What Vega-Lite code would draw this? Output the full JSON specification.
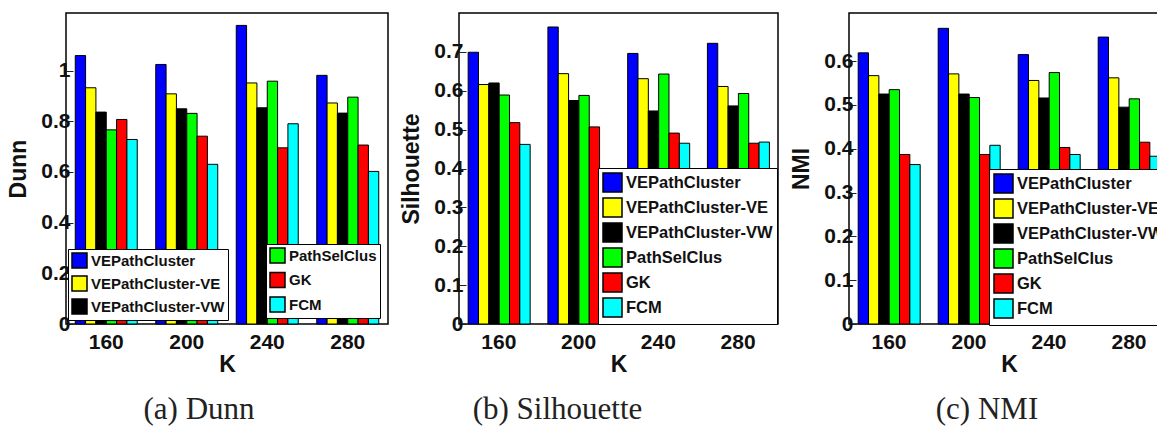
{
  "$schema": "https://vega.github.io/schema/vega-lite/v6.json",
  "background": "white",
  "padding": {"left": 7, "top": 12, "right": 0, "bottom": 0},
  "spacing": 11,
  "resolve": {"scale": {"color": "independent"}, "legend": {"color": "independent"}},
  "datasets": {
    "scores": [
      {"metric": "Dunn", "K": "160", "method": "VEPathCluster", "value": 1.059},
      {"metric": "Dunn", "K": "160", "method": "VEPathCluster-VE", "value": 0.932},
      {"metric": "Dunn", "K": "160", "method": "VEPathCluster-VW", "value": 0.836},
      {"metric": "Dunn", "K": "160", "method": "PathSelClus", "value": 0.766},
      {"metric": "Dunn", "K": "160", "method": "GK", "value": 0.807},
      {"metric": "Dunn", "K": "160", "method": "FCM", "value": 0.728},
      {"metric": "Dunn", "K": "200", "method": "VEPathCluster", "value": 1.024},
      {"metric": "Dunn", "K": "200", "method": "VEPathCluster-VE", "value": 0.908},
      {"metric": "Dunn", "K": "200", "method": "VEPathCluster-VW", "value": 0.849},
      {"metric": "Dunn", "K": "200", "method": "PathSelClus", "value": 0.831},
      {"metric": "Dunn", "K": "200", "method": "GK", "value": 0.741},
      {"metric": "Dunn", "K": "200", "method": "FCM", "value": 0.630},
      {"metric": "Dunn", "K": "240", "method": "VEPathCluster", "value": 1.178},
      {"metric": "Dunn", "K": "240", "method": "VEPathCluster-VE", "value": 0.951},
      {"metric": "Dunn", "K": "240", "method": "VEPathCluster-VW", "value": 0.853},
      {"metric": "Dunn", "K": "240", "method": "PathSelClus", "value": 0.958},
      {"metric": "Dunn", "K": "240", "method": "GK", "value": 0.695},
      {"metric": "Dunn", "K": "240", "method": "FCM", "value": 0.790},
      {"metric": "Dunn", "K": "280", "method": "VEPathCluster", "value": 0.981},
      {"metric": "Dunn", "K": "280", "method": "VEPathCluster-VE", "value": 0.872},
      {"metric": "Dunn", "K": "280", "method": "VEPathCluster-VW", "value": 0.832},
      {"metric": "Dunn", "K": "280", "method": "PathSelClus", "value": 0.895},
      {"metric": "Dunn", "K": "280", "method": "GK", "value": 0.706},
      {"metric": "Dunn", "K": "280", "method": "FCM", "value": 0.602},
      {"metric": "Silhouette", "K": "160", "method": "VEPathCluster", "value": 0.699},
      {"metric": "Silhouette", "K": "160", "method": "VEPathCluster-VE", "value": 0.616},
      {"metric": "Silhouette", "K": "160", "method": "VEPathCluster-VW", "value": 0.620},
      {"metric": "Silhouette", "K": "160", "method": "PathSelClus", "value": 0.589},
      {"metric": "Silhouette", "K": "160", "method": "GK", "value": 0.518},
      {"metric": "Silhouette", "K": "160", "method": "FCM", "value": 0.462},
      {"metric": "Silhouette", "K": "200", "method": "VEPathCluster", "value": 0.764},
      {"metric": "Silhouette", "K": "200", "method": "VEPathCluster-VE", "value": 0.644},
      {"metric": "Silhouette", "K": "200", "method": "VEPathCluster-VW", "value": 0.575},
      {"metric": "Silhouette", "K": "200", "method": "PathSelClus", "value": 0.588},
      {"metric": "Silhouette", "K": "200", "method": "GK", "value": 0.507},
      {"metric": "Silhouette", "K": "200", "method": "FCM", "value": 0.390},
      {"metric": "Silhouette", "K": "240", "method": "VEPathCluster", "value": 0.696},
      {"metric": "Silhouette", "K": "240", "method": "VEPathCluster-VE", "value": 0.631},
      {"metric": "Silhouette", "K": "240", "method": "VEPathCluster-VW", "value": 0.548},
      {"metric": "Silhouette", "K": "240", "method": "PathSelClus", "value": 0.643},
      {"metric": "Silhouette", "K": "240", "method": "GK", "value": 0.491},
      {"metric": "Silhouette", "K": "240", "method": "FCM", "value": 0.465},
      {"metric": "Silhouette", "K": "280", "method": "VEPathCluster", "value": 0.722},
      {"metric": "Silhouette", "K": "280", "method": "VEPathCluster-VE", "value": 0.611},
      {"metric": "Silhouette", "K": "280", "method": "VEPathCluster-VW", "value": 0.561},
      {"metric": "Silhouette", "K": "280", "method": "PathSelClus", "value": 0.593},
      {"metric": "Silhouette", "K": "280", "method": "GK", "value": 0.465},
      {"metric": "Silhouette", "K": "280", "method": "FCM", "value": 0.468},
      {"metric": "NMI", "K": "160", "method": "VEPathCluster", "value": 0.619},
      {"metric": "NMI", "K": "160", "method": "VEPathCluster-VE", "value": 0.567},
      {"metric": "NMI", "K": "160", "method": "VEPathCluster-VW", "value": 0.525},
      {"metric": "NMI", "K": "160", "method": "PathSelClus", "value": 0.535},
      {"metric": "NMI", "K": "160", "method": "GK", "value": 0.387},
      {"metric": "NMI", "K": "160", "method": "FCM", "value": 0.364},
      {"metric": "NMI", "K": "200", "method": "VEPathCluster", "value": 0.675},
      {"metric": "NMI", "K": "200", "method": "VEPathCluster-VE", "value": 0.571},
      {"metric": "NMI", "K": "200", "method": "VEPathCluster-VW", "value": 0.525},
      {"metric": "NMI", "K": "200", "method": "PathSelClus", "value": 0.517},
      {"metric": "NMI", "K": "200", "method": "GK", "value": 0.387},
      {"metric": "NMI", "K": "200", "method": "FCM", "value": 0.408},
      {"metric": "NMI", "K": "240", "method": "VEPathCluster", "value": 0.615},
      {"metric": "NMI", "K": "240", "method": "VEPathCluster-VE", "value": 0.556},
      {"metric": "NMI", "K": "240", "method": "VEPathCluster-VW", "value": 0.516},
      {"metric": "NMI", "K": "240", "method": "PathSelClus", "value": 0.574},
      {"metric": "NMI", "K": "240", "method": "GK", "value": 0.403},
      {"metric": "NMI", "K": "240", "method": "FCM", "value": 0.387},
      {"metric": "NMI", "K": "280", "method": "VEPathCluster", "value": 0.655},
      {"metric": "NMI", "K": "280", "method": "VEPathCluster-VE", "value": 0.562},
      {"metric": "NMI", "K": "280", "method": "VEPathCluster-VW", "value": 0.495},
      {"metric": "NMI", "K": "280", "method": "PathSelClus", "value": 0.514},
      {"metric": "NMI", "K": "280", "method": "GK", "value": 0.415},
      {"metric": "NMI", "K": "280", "method": "FCM", "value": 0.383}
    ]
  },
  "hconcat": [
    {
      "width": 322,
      "height": 311,
      "data": {"name": "scores"},
      "transform": [{"filter": "datum.metric === 'Dunn'"}],
      "title": {"text": "(a) Dunn", "orient": "bottom", "anchor": "middle", "frame": "group", "dx": -28},
      "layer": [
        {
          "transform": [{"filter": {"field": "method", "oneOf": ["VEPathCluster", "VEPathCluster-VE", "VEPathCluster-VW"]}}],
          "mark": {"type": "bar", "stroke": "black", "strokeWidth": 1},
          "encoding": {
            "x": {"field": "K", "type": "ordinal", "title": "K", "scale": {"paddingInner": 0.23, "paddingOuter": 0.115}, "axis": {"labelAngle": 0}},
            "xOffset": {"field": "method", "type": "nominal", "scale": {"domain": ["VEPathCluster", "VEPathCluster-VE", "VEPathCluster-VW", "PathSelClus", "GK", "FCM"], "paddingInner": 0, "paddingOuter": 0}},
            "y": {"field": "value", "type": "quantitative", "title": "Dunn", "scale": {"domain": [0, 1.227], "nice": false}, "axis": {"values": [0, 0.2, 0.4, 0.6, 0.8, 1], "format": "~g"}},
            "color": {"field": "method", "type": "nominal", "scale": {"domain": ["VEPathCluster", "VEPathCluster-VE", "VEPathCluster-VW"], "range": ["#0000ff", "#ffff00", "#000000"]}, "legend": {"title": null, "orient": "none", "legendX": 2, "legendY": 236, "labelFontSize": 15, "symbolSize": 225, "padding": 3, "rowPadding": 2}}
          }
        },
        {
          "transform": [{"filter": {"field": "method", "oneOf": ["PathSelClus", "GK", "FCM"]}}],
          "mark": {"type": "bar", "stroke": "black", "strokeWidth": 1},
          "encoding": {
            "x": {"field": "K", "type": "ordinal"},
            "xOffset": {"field": "method", "type": "nominal"},
            "y": {"field": "value", "type": "quantitative"},
            "color": {"field": "method", "type": "nominal", "scale": {"domain": ["PathSelClus", "GK", "FCM"], "range": ["#00ff00", "#ff0000", "#00ffff"]}, "legend": {"title": null, "orient": "none", "legendX": 200, "legendY": 231, "labelFontSize": 15, "symbolSize": 225, "padding": 3, "rowPadding": 3.5}}
          }
        }
      ],
      "resolve": {"scale": {"color": "independent"}, "legend": {"color": "independent"}}
    },
    {
      "width": 319,
      "height": 311,
      "data": {"name": "scores"},
      "transform": [{"filter": "datum.metric === 'Silhouette'"}],
      "title": {"text": "(b) Silhouette", "orient": "bottom", "anchor": "middle", "frame": "group", "dx": -61},
      "mark": {"type": "bar", "stroke": "black", "strokeWidth": 1},
      "encoding": {
        "x": {"field": "K", "type": "ordinal", "title": "K", "scale": {"paddingInner": 0.23, "paddingOuter": 0.115}, "axis": {"labelAngle": 0}},
        "xOffset": {"field": "method", "type": "nominal", "scale": {"domain": ["VEPathCluster", "VEPathCluster-VE", "VEPathCluster-VW", "PathSelClus", "GK", "FCM"], "paddingInner": 0, "paddingOuter": 0}},
        "y": {"field": "value", "type": "quantitative", "title": "Silhouette", "scale": {"domain": [0, 0.8], "nice": false}, "axis": {"values": [0, 0.1, 0.2, 0.3, 0.4, 0.5, 0.6, 0.7], "format": "~g"}},
        "color": {"field": "method", "type": "nominal", "scale": {"domain": ["VEPathCluster", "VEPathCluster-VE", "VEPathCluster-VW", "PathSelClus", "GK", "FCM"], "range": ["#0000ff", "#ffff00", "#000000", "#00ff00", "#ff0000", "#00ffff"]}, "legend": {"title": null, "orient": "none", "legendX": 139, "legendY": 155, "labelFontSize": 16.5, "symbolSize": 361, "rowPadding": 0}}
      }
    },
    {
      "width": 320,
      "height": 311,
      "data": {"name": "scores"},
      "transform": [{"filter": "datum.metric === 'NMI'"}],
      "title": {"text": "(c) NMI", "orient": "bottom", "anchor": "middle", "frame": "group", "dx": -22},
      "mark": {"type": "bar", "stroke": "black", "strokeWidth": 1},
      "encoding": {
        "x": {"field": "K", "type": "ordinal", "title": "K", "scale": {"paddingInner": 0.23, "paddingOuter": 0.115}, "axis": {"labelAngle": 0}},
        "xOffset": {"field": "method", "type": "nominal", "scale": {"domain": ["VEPathCluster", "VEPathCluster-VE", "VEPathCluster-VW", "PathSelClus", "GK", "FCM"], "paddingInner": 0, "paddingOuter": 0}},
        "y": {"field": "value", "type": "quantitative", "title": "NMI", "scale": {"domain": [0, 0.71], "nice": false}, "axis": {"values": [0, 0.1, 0.2, 0.3, 0.4, 0.5, 0.6], "format": "~g"}},
        "color": {"field": "method", "type": "nominal", "scale": {"domain": ["VEPathCluster", "VEPathCluster-VE", "VEPathCluster-VW", "PathSelClus", "GK", "FCM"], "range": ["#0000ff", "#ffff00", "#000000", "#00ff00", "#ff0000", "#00ffff"]}, "legend": {"title": null, "orient": "none", "legendX": 140, "legendY": 156, "labelFontSize": 16.5, "symbolSize": 361, "rowPadding": 0}}
      }
    }
  ],
  "config": {
    "view": {"stroke": "black", "strokeWidth": 1.5},
    "axis": {
      "domain": false,
      "grid": false,
      "tickColor": "#222222",
      "tickSize": -7,
      "tickWidth": 1,
      "labelFont": "Liberation Sans",
      "labelFontSize": 21,
      "labelFontWeight": "bold",
      "labelColor": "#111111",
      "titleFont": "Liberation Sans",
      "titleFontSize": 23,
      "titleFontWeight": "bold",
      "titleColor": "#111111"
    },
    "axisX": {"labelPadding": 14, "titlePadding": 1},
    "axisY": {"labelPadding": 3, "titlePadding": 10},
    "legend": {
      "strokeColor": "black",
      "fillColor": "white",
      "padding": 4,
      "cornerRadius": 0,
      "symbolType": "square",
      "symbolSize": 400,
      "symbolStrokeColor": "black",
      "symbolStrokeWidth": 1.5,
      "symbolOpacity": 1,
      "labelFont": "Liberation Sans",
      "labelFontWeight": "bold",
      "labelColor": "#111111",
      "labelOffset": 3,
      "labelLimit": 0,
      "zindex": 1
    },
    "title": {"font": "Liberation Serif", "fontSize": 31, "fontWeight": "normal", "color": "#222222", "offset": 19}
  }
}
